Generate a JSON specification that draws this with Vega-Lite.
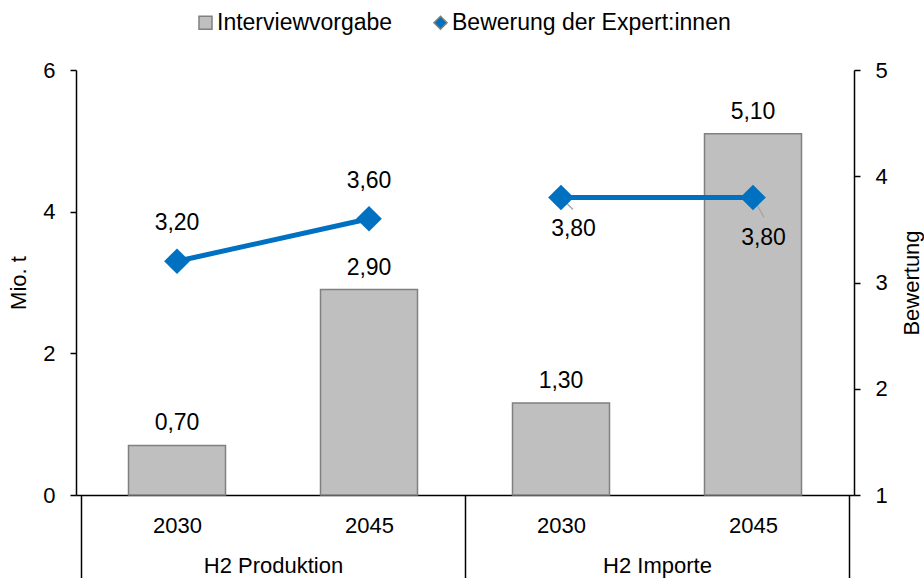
{
  "$schema": "https://vega.github.io/schema/vega-lite/v6.json",
  "width": 778,
  "height": 425,
  "autosize": {"type": "none"},
  "padding": {"left": 76, "top": 70, "right": 70, "bottom": 83},
  "background": "white",
  "config": {
    "view": {"stroke": null},
    "font": "Liberation Sans",
    "locale": {"number": {"decimal": ",", "thousands": ".", "grouping": [3], "currency": ["", " €"]}},
    "axis": {
      "labelFont": "Liberation Sans", "titleFont": "Liberation Sans",
      "labelColor": "black", "titleColor": "black",
      "labelFontSize": 22, "titleFontSize": 22, "titleFontWeight": "normal",
      "domainColor": "black", "tickColor": "black", "domainWidth": 1.5, "tickWidth": 1.5,
      "grid": false
    },
    "legend": {"labelFont": "Liberation Sans", "labelColor": "black"}
  },
  "data": {
    "values": [
      {"group": "H2 Produktion", "year": "2030", "pos": 0.5, "series": "Interviewvorgabe", "value": 0.7},
      {"group": "H2 Produktion", "year": "2045", "pos": 1.5, "series": "Interviewvorgabe", "value": 2.9},
      {"group": "H2 Importe", "year": "2030", "pos": 2.5, "series": "Interviewvorgabe", "value": 1.3},
      {"group": "H2 Importe", "year": "2045", "pos": 3.5, "series": "Interviewvorgabe", "value": 5.1},
      {"group": "H2 Produktion", "year": "2030", "pos": 0.5, "series": "Bewerung der Expert:innen", "value": 3.2},
      {"group": "H2 Produktion", "year": "2045", "pos": 1.5, "series": "Bewerung der Expert:innen", "value": 3.6},
      {"group": "H2 Importe", "year": "2030", "pos": 2.5, "series": "Bewerung der Expert:innen", "value": 3.8},
      {"group": "H2 Importe", "year": "2045", "pos": 3.5, "series": "Bewerung der Expert:innen", "value": 3.8}
    ]
  },
  "layer": [
    {
      "transform": [{"filter": "datum.series == 'Interviewvorgabe'"}],
      "layer": [
        {
          "mark": {"type": "bar", "size": 97, "stroke": "#808080", "strokeWidth": 1.5},
          "encoding": {
            "x": {"field": "pos", "type": "quantitative", "scale": {"domain": [0, 4], "nice": false, "zero": false},
              "axis": {"values": [0.5, 1.5, 2.5, 3.5], "labelExpr": "(datum.value == 0.5 || datum.value == 2.5) ? '2030' : '2045'", "tickSize": 0, "labelPadding": 20, "title": null, "orient": "bottom", "domain": true}},
            "y": {"field": "value", "type": "quantitative", "scale": {"domain": [0, 6], "nice": false},
              "axis": {"values": [0, 2, 4, 6], "format": "d", "tickSize": 6, "labelPadding": 15, "title": "Mio. t", "titlePadding": 12, "orient": "left"}},
            "color": {"field": "series", "type": "nominal",
              "scale": {"domain": ["Interviewvorgabe", "Bewerung der Expert:innen"], "range": ["#BFBFBF", "#0070C0"]},
              "legend": {"orient": "none", "legendX": 118, "legendY": -59, "direction": "horizontal", "title": null,
                "labelFontSize": 23, "labelLimit": 500, "symbolSize": 170, "labelOffset": 0, "columnPadding": 36, "padding": 0,
                "symbolStrokeWidth": 1.5,
                "encode": {"symbols": {"update": {"stroke": {"signal": "datum.value === 'Interviewvorgabe' ? '#808080' : '#0070C0'"}}}}}}
          }
        },
        {
          "mark": {"type": "text", "fontSize": 23, "color": "black", "baseline": "alphabetic", "dy": -15},
          "encoding": {
            "x": {"field": "pos", "type": "quantitative"},
            "y": {"field": "value", "type": "quantitative"},
            "text": {"field": "value", "type": "quantitative", "format": ".2f"}
          }
        }
      ]
    },
    {
      "transform": [{"filter": "datum.series != 'Interviewvorgabe'"}],
      "resolve": {"axis": {"x": "independent"}},
      "layer": [
        {
          "mark": {"type": "line", "color": "#0070C0", "strokeWidth": 5},
          "encoding": {
            "x": {"field": "pos", "type": "quantitative",
              "axis": {"values": [0, 2, 4], "labels": false, "tickSize": 83, "domain": false, "title": null, "orient": "bottom", "tickWidth": 1.5}},
            "y": {"field": "value", "type": "quantitative", "scale": {"domain": [1, 5], "nice": false, "zero": false},
              "axis": {"values": [1, 2, 3, 4, 5], "format": "d", "tickSize": 6, "labelPadding": 15, "title": "Bewertung", "titleAngle": 270, "titleBaseline": "top", "titlePadding": 14, "orient": "right"}},
            "detail": {"field": "group", "type": "nominal"}
          }
        },
        {
          "transform": [{"filter": "datum.group == 'H2 Importe' && datum.year == '2030'"}],
          "mark": {"type": "rule", "color": "#A6A6A6", "strokeWidth": 1.5, "x2Offset": 12, "y2Offset": 12},
          "encoding": {
            "x": {"field": "pos", "type": "quantitative", "axis": null},
            "x2": {"field": "pos"},
            "y": {"field": "value", "type": "quantitative"},
            "y2": {"field": "value"}
          }
        },
        {
          "transform": [{"filter": "datum.group == 'H2 Importe' && datum.year == '2045'"}],
          "mark": {"type": "rule", "color": "#A6A6A6", "strokeWidth": 1.5, "x2Offset": 11, "y2Offset": 20},
          "encoding": {
            "x": {"field": "pos", "type": "quantitative", "axis": null},
            "x2": {"field": "pos"},
            "y": {"field": "value", "type": "quantitative"},
            "y2": {"field": "value"}
          }
        },
        {
          "mark": {"type": "point", "filled": true, "size": 660, "opacity": 1},
          "encoding": {
            "x": {"field": "pos", "type": "quantitative",
              "axis": {"values": [1, 3], "labelExpr": "datum.value == 1 ? 'H2 Produktion' : 'H2 Importe'", "tickSize": 0, "domain": false, "labelPadding": 60, "title": null, "orient": "bottom"}},
            "y": {"field": "value", "type": "quantitative"},
            "color": {"field": "series", "type": "nominal"},
            "shape": {"field": "series", "type": "nominal",
              "scale": {"domain": ["Interviewvorgabe", "Bewerung der Expert:innen"], "range": ["square", "diamond"]}}
          }
        },
        {
          "transform": [{"filter": "datum.group == 'H2 Produktion'"}],
          "mark": {"type": "text", "fontSize": 23, "color": "black", "baseline": "alphabetic", "dy": -31},
          "encoding": {
            "x": {"field": "pos", "type": "quantitative", "axis": null},
            "y": {"field": "value", "type": "quantitative"},
            "text": {"field": "value", "type": "quantitative", "format": ".2f"}
          }
        },
        {
          "transform": [{"filter": "datum.group == 'H2 Importe' && datum.year == '2030'"}],
          "mark": {"type": "text", "fontSize": 23, "color": "black", "baseline": "alphabetic", "dx": 12.5, "dy": 38},
          "encoding": {
            "x": {"field": "pos", "type": "quantitative", "axis": null},
            "y": {"field": "value", "type": "quantitative"},
            "text": {"field": "value", "type": "quantitative", "format": ".2f"}
          }
        },
        {
          "transform": [{"filter": "datum.group == 'H2 Importe' && datum.year == '2045'"}],
          "mark": {"type": "text", "fontSize": 23, "color": "black", "baseline": "alphabetic", "dx": 10.5, "dy": 47},
          "encoding": {
            "x": {"field": "pos", "type": "quantitative", "axis": null},
            "y": {"field": "value", "type": "quantitative"},
            "text": {"field": "value", "type": "quantitative", "format": ".2f"}
          }
        }
      ]
    }
  ],
  "resolve": {"scale": {"y": "independent"}, "axis": {"x": "independent"}}
}
